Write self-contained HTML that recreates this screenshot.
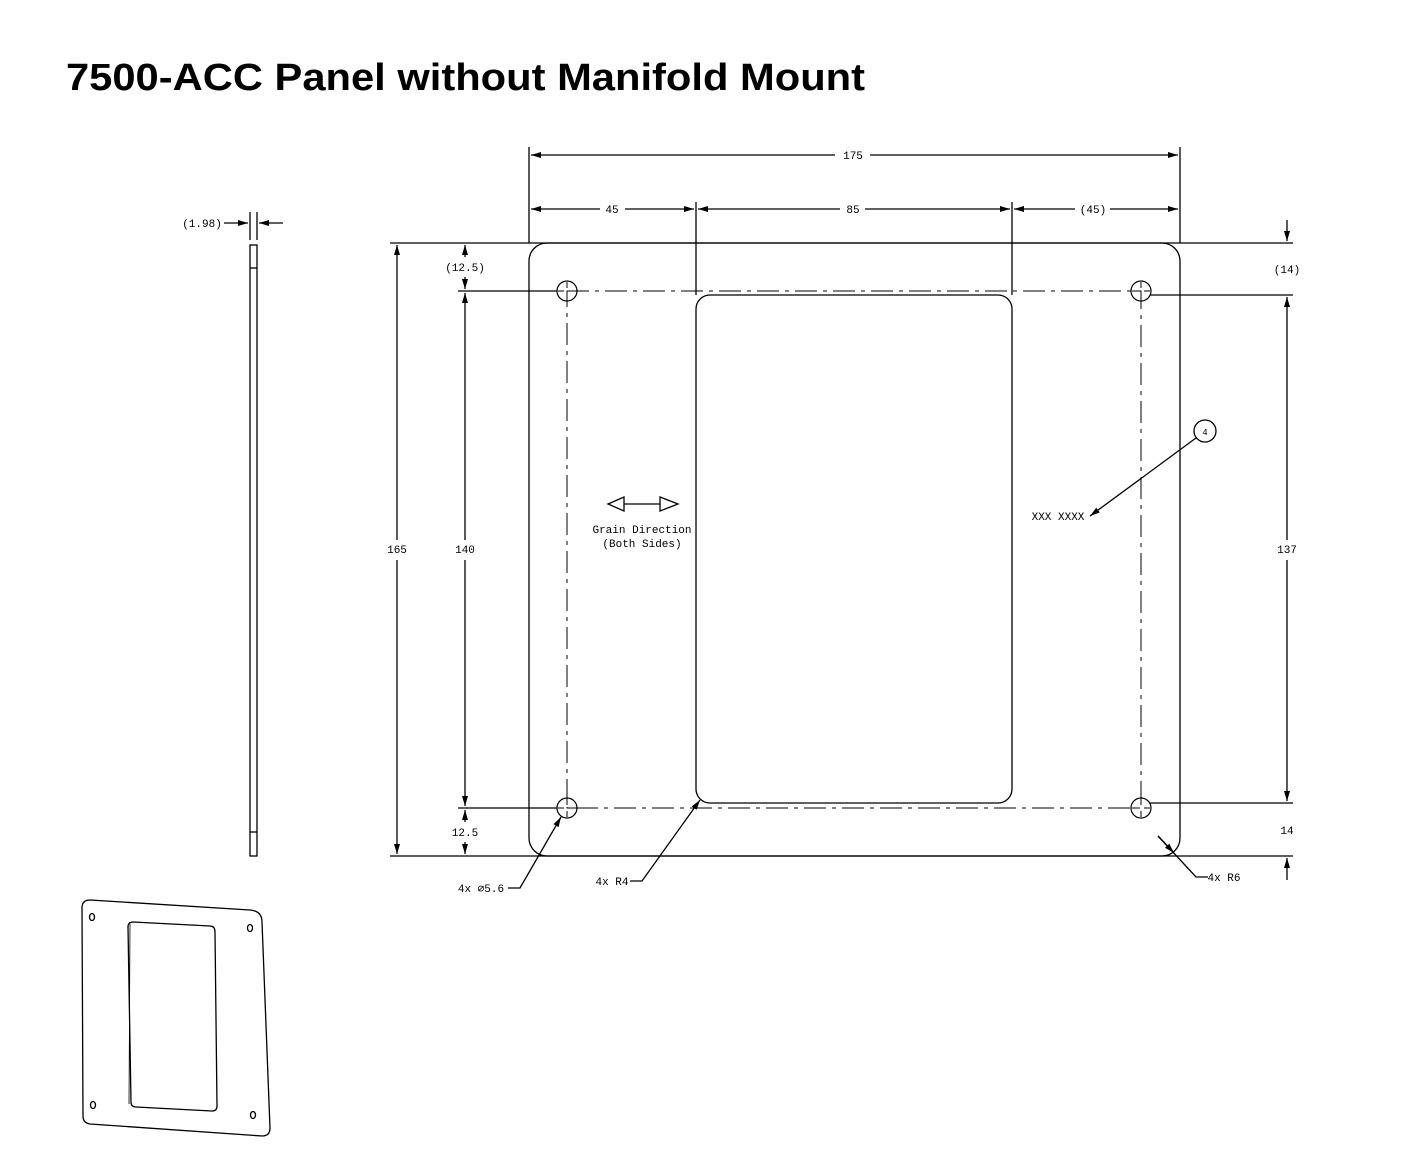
<!DOCTYPE html>
<html><head><meta charset="utf-8"><style>
body{margin:0;background:#fff;width:1418px;height:1170px;overflow:hidden}
svg{display:block}
.t{font-family:"Liberation Sans Narrow","Liberation Mono",monospace;font-size:11px;fill:#000}
</style></head><body>
<svg width="1418" height="1170" viewBox="0 0 1418 1170" xmlns="http://www.w3.org/2000/svg">
<defs>
<marker id="a" viewBox="0 0 10 6" refX="10" refY="3" markerWidth="10" markerHeight="6" orient="auto-start-reverse" markerUnits="userSpaceOnUse"><path d="M0,0L10,3L0,6z" fill="#000"/></marker>
</defs>
<text x="66" y="90" font-family="Liberation Sans, sans-serif" font-weight="bold" font-size="38" fill="#000" textLength="799" lengthAdjust="spacingAndGlyphs">7500-ACC Panel without Manifold Mount</text>
<g stroke="#000" stroke-width="1.3" fill="none">
<rect x="529" y="243" width="651" height="613" rx="18"/>
<line x1="390" y1="243" x2="1293" y2="243"/><line x1="390" y1="856" x2="1293" y2="856"/>
<rect x="696" y="295" width="316" height="508" rx="14"/>
<rect x="567" y="291" width="574" height="517" stroke-width="1" stroke-dasharray="22,6,4,6"/>
<g stroke-width="1.2">
<circle cx="567" cy="291" r="10"/><circle cx="1141" cy="291" r="10"/><circle cx="567" cy="808" r="10"/><circle cx="1141" cy="808" r="10"/>
</g>
<g stroke-width="1">
<path d="M567,282v6M567,294v6M558,291h6M570,291h6"/>
<path d="M1141,282v6M1141,294v6M1132,291h6M1144,291h6"/>
<path d="M567,799v6M567,811v6M558,808h6M570,808h6"/>
<path d="M1141,799v6M1141,811v6M1132,808h6M1144,808h6"/>
</g>
<line x1="529" y1="147" x2="529" y2="243"/><line x1="1180" y1="147" x2="1180" y2="243"/>
<line x1="696" y1="202" x2="696" y2="295"/><line x1="1012" y1="202" x2="1012" y2="295"/>
<line x1="531" y1="155" x2="835" y2="155" marker-start="url(#a)"/><line x1="870" y1="155" x2="1178" y2="155" marker-end="url(#a)"/>
<line x1="531" y1="209" x2="600" y2="209" marker-start="url(#a)"/><line x1="625" y1="209" x2="694" y2="209" marker-end="url(#a)"/>
<line x1="698" y1="209" x2="840" y2="209" marker-start="url(#a)"/><line x1="865" y1="209" x2="1010" y2="209" marker-end="url(#a)"/>
<line x1="1014" y1="209" x2="1075" y2="209" marker-start="url(#a)"/><line x1="1110" y1="209" x2="1178" y2="209" marker-end="url(#a)"/>
<line x1="458" y1="291" x2="557" y2="291"/><line x1="458" y1="808" x2="557" y2="808"/>
<line x1="397" y1="245" x2="397" y2="540" marker-start="url(#a)"/><line x1="397" y1="560" x2="397" y2="854" marker-end="url(#a)"/>
<line x1="465" y1="293" x2="465" y2="540" marker-start="url(#a)"/><line x1="465" y1="560" x2="465" y2="806" marker-end="url(#a)"/>
<line x1="465" y1="245" x2="465" y2="257" marker-start="url(#a)"/><line x1="465" y1="277" x2="465" y2="289" marker-end="url(#a)"/>
<line x1="465" y1="810" x2="465" y2="822" marker-start="url(#a)"/><line x1="465" y1="842" x2="465" y2="854" marker-end="url(#a)"/>
<line x1="1150" y1="295" x2="1293" y2="295"/>
<line x1="1150" y1="803" x2="1293" y2="803"/>
<line x1="1287" y1="220" x2="1287" y2="241" marker-end="url(#a)"/>
<line x1="1287" y1="297" x2="1287" y2="540" marker-start="url(#a)"/><line x1="1287" y1="560" x2="1287" y2="801" marker-end="url(#a)"/>
<line x1="1287" y1="880" x2="1287" y2="858" marker-end="url(#a)"/>
<rect x="250" y="245" width="7" height="611"/>
<line x1="250" y1="268" x2="257" y2="268"/><line x1="250" y1="832" x2="257" y2="832"/>
<line x1="250" y1="212" x2="250" y2="240"/><line x1="257" y1="212" x2="257" y2="240"/>
<line x1="224" y1="223" x2="248" y2="223" marker-end="url(#a)"/><line x1="283" y1="223" x2="259" y2="223" marker-end="url(#a)"/>
<polyline points="508,888 520,888 561,817" marker-end="url(#a)"/>
<polyline points="630,881 642,881 700,800" marker-end="url(#a)"/>
<polyline points="1208,877 1196,877 1158,836"/>
<line x1="1158" y1="836" x2="1174" y2="853" marker-end="url(#a)"/>
<circle cx="1205" cy="431" r="11"/>
<line x1="1196" y1="438" x2="1090" y2="516" marker-end="url(#a)"/>
<line x1="624" y1="504" x2="660" y2="504"/>
<path d="M608,504L624,497L624,511z M678,504L660,497L660,511z"/>
<path d="M90,900 L250,910 Q262,911 262,922 L270,1128 Q270,1136 262,1136 L90,1124 Q83,1123 83,1116 L82,908 Q82,900 90,900z"/>
<path d="M133,922 L210,926 Q215,926 215,932 L217,1106 Q217,1111 212,1111 L136,1107 Q131,1107 131,1102 L128,927 Q128,922 133,922z"/>
<path d="M130,924 L129,1104" stroke-width="0.8"/>
<ellipse cx="92" cy="917" rx="2.5" ry="3.5"/><ellipse cx="250" cy="928" rx="2.5" ry="3.5"/>
<ellipse cx="93" cy="1105" rx="2.5" ry="3.5"/><ellipse cx="253" cy="1115" rx="2.5" ry="3.5"/>
</g>
<g class="t" text-anchor="middle">
<text x="853" y="159">175</text><text x="612" y="213">45</text><text x="853" y="213">85</text><text x="1093" y="213">(45)</text>
<text x="397" y="553">165</text><text x="465" y="553">140</text><text x="1287" y="553">137</text>
<text x="465" y="271">(12.5)</text><text x="465" y="836">12.5</text>
<text x="1287" y="273">(14)</text><text x="1287" y="834">14</text>
<text x="202" y="227">(1.98)</text>
<text x="1205" y="435" font-size="9">4</text>
<text x="1058" y="520">XXX XXXX</text>
<text x="642" y="533">Grain Direction</text><text x="642" y="547">(Both Sides)</text>
<text x="481" y="892">4x ⌀5.6</text><text x="612" y="885">4x R4</text><text x="1224" y="881">4x R6</text>
</g>
</svg>
</body></html>
